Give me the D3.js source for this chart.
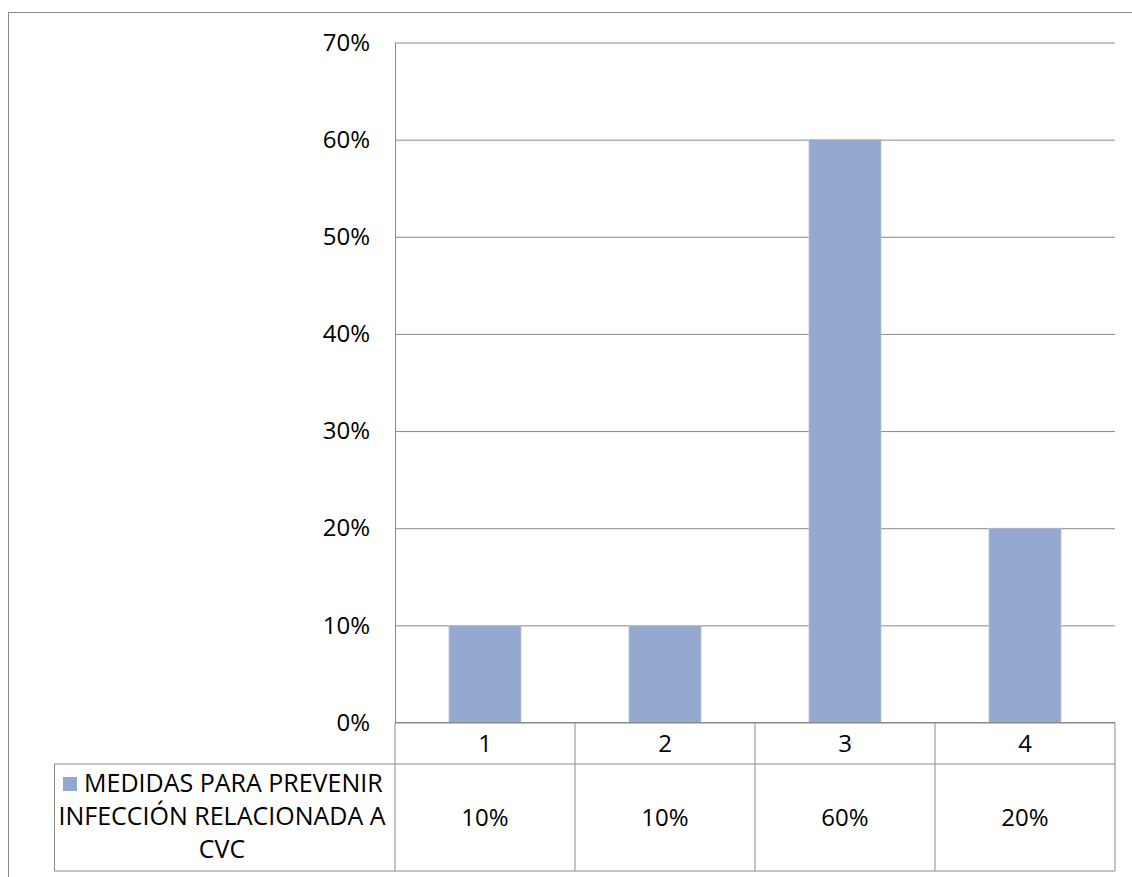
<!DOCTYPE html>
<html>
<head>
<meta charset="utf-8">
<script src="https://cdn.jsdelivr.net/npm/d3@7"></script>
<style>
  html, body { margin: 0; padding: 0; background: #fff; overflow: hidden; }
  svg { display: block; }
  text { font-family: "Open Sans", "Noto Sans", sans-serif; fill: #000; }
</style>
</head>
<body>
<svg id="chart" width="1132" height="877"></svg>
<script>
// Chart data
const categories = ["1", "2", "3", "4"];
const values = [0.10, 0.10, 0.60, 0.20];
const yTicks = [0, 0.1, 0.2, 0.3, 0.4, 0.5, 0.6, 0.7];
const seriesLines = ["MEDIDAS PARA PREVENIR", "INFECCIÓN RELACIONADA A", "CVC"];

const W = 1132, H = 877;
const plot = { left: 395, right: 1115, top: 42.5, bottom: 722.5 };
const table = { legendLeft: 54.5, row1Bottom: 764, bottom: 871 };
const barColor = "#95a9d0";
const lineColor = "#898989";
const fontSize = 24;
const legendFontSize = 25;

const svg = d3.select("#chart");

// Outer chart border (runs off the right and bottom edges)
svg.append("rect")
  .attr("x", 8.5).attr("y", 12.5)
  .attr("width", W + 10).attr("height", H + 10)
  .attr("fill", "#fff")
  .attr("stroke", lineColor).attr("stroke-width", 1);

const x = d3.scaleBand()
  .domain(categories)
  .range([plot.left, plot.right])
  .paddingInner(0.6)
  .paddingOuter(0.3);

const y = d3.scaleLinear()
  .domain([0, 0.7])
  .range([plot.bottom, plot.top]);

// Horizontal gridlines
svg.append("g")
  .attr("transform", `translate(${plot.left},0)`)
  .call(d3.axisLeft(y).tickValues(yTicks).tickSize(-(plot.right - plot.left)).tickFormat(""))
  .call(g => g.select(".domain").remove())
  .call(g => g.selectAll("line").attr("stroke", lineColor).attr("stroke-width", 1));

// Bars
svg.append("g")
  .selectAll("rect")
  .data(values)
  .join("rect")
  .attr("x", (d, i) => x(categories[i]))
  .attr("y", d => y(d))
  .attr("width", x.bandwidth())
  .attr("height", d => y(0) - y(d))
  .attr("fill", barColor)
  .attr("stroke", "#b3c3e1")
  .attr("stroke-width", 0.8);

// Value axis with percentage labels
const yAxis = svg.append("g")
  .attr("transform", `translate(${plot.left},0)`)
  .call(d3.axisLeft(y).tickValues(yTicks).tickSize(0).tickPadding(25).tickFormat(d3.format(".0%")));
yAxis.select(".domain").attr("stroke", lineColor);
yAxis.selectAll("text")
  .attr("font-size", fontSize)
  .attr("font-family", "'Open Sans', sans-serif")
  .attr("fill", "#000");

// Data table grid
const grid = svg.append("g").attr("stroke", lineColor).attr("stroke-width", 1).attr("fill", "none");
// row separators
grid.append("line").attr("x1", plot.left).attr("x2", plot.right).attr("y1", plot.bottom).attr("y2", plot.bottom);
grid.append("line").attr("x1", table.legendLeft).attr("x2", plot.right).attr("y1", table.row1Bottom).attr("y2", table.row1Bottom);
grid.append("line").attr("x1", table.legendLeft).attr("x2", plot.right).attr("y1", table.bottom).attr("y2", table.bottom);
grid.append("line").attr("x1", table.legendLeft).attr("x2", table.legendLeft).attr("y1", table.row1Bottom).attr("y2", table.bottom);
// column separators
const colEdges = categories.map(c => x(c) - x.step() * x.paddingInner() / 2).concat([plot.right]);
colEdges.forEach(cx => {
  grid.append("line").attr("x1", cx).attr("x2", cx).attr("y1", plot.bottom).attr("y2", table.bottom);
});

// Category labels
const cx = c => x(c) + x.bandwidth() / 2;
svg.append("g").selectAll("text")
  .data(categories)
  .join("text")
  .attr("x", d => cx(d))
  .attr("y", (plot.bottom + table.row1Bottom) / 2)
  .attr("dy", "0.36em")
  .attr("text-anchor", "middle")
  .attr("font-size", fontSize)
  .text(d => d);

// Value row
const pct = d3.format(".0%");
svg.append("g").selectAll("text")
  .data(values)
  .join("text")
  .attr("x", (d, i) => cx(categories[i]))
  .attr("y", (table.row1Bottom + table.bottom) / 2)
  .attr("dy", "0.36em")
  .attr("text-anchor", "middle")
  .attr("font-size", fontSize)
  .text(d => pct(d));

// Series legend cell: key square, then the wrapped series name
svg.append("rect")
  .attr("x", 63).attr("y", 777)
  .attr("width", 14).attr("height", 14)
  .attr("fill", barColor);

const legendCenter = 222;
svg.append("g").selectAll("text")
  .data(seriesLines)
  .join("text")
  .attr("x", (d, i) => i === 0 ? 84 : legendCenter)
  .attr("y", (d, i) => 792 + i * 33)
  .attr("text-anchor", (d, i) => i === 0 ? "start" : "middle")
  .attr("font-size", legendFontSize)
  .text(d => d);
</script>
</body>
</html>
